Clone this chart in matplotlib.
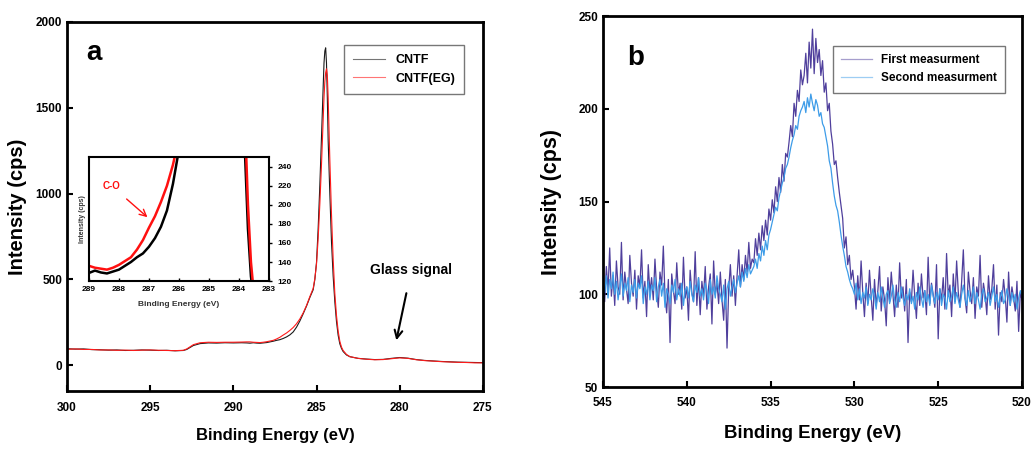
import numpy as np
import matplotlib
matplotlib.use("Agg")
import matplotlib.pyplot as plt

plt.rcParams['font.family'] = ['Liberation Sans', 'DejaVu Sans']
plt.rcParams['font.weight'] = 'bold'

# ---------------- Panel a: C1s ----------------
be_a = [300, 299.5, 299, 298.5, 298, 297.5, 297, 296.5, 296, 295.5, 295, 294.5, 294, 293.5, 293,
        292.8, 292.4, 292, 291.5, 291, 290.5, 290, 289.5, 289.2, 289, 288.8, 288.6, 288.4, 288.2, 288,
        287.8, 287.6, 287.4, 287.2, 287, 286.8, 286.6, 286.4, 286.2, 286, 285.8, 285.6, 285.4,
        285.2, 285.1, 285, 284.9, 284.8, 284.7, 284.6, 284.55, 284.5, 284.45, 284.4, 284.35, 284.3,
        284.2, 284.1, 284, 283.9, 283.8, 283.7, 283.6, 283.5, 283.4, 283.2, 283, 282.5, 282, 281.5,
        281, 280.5, 280, 279.5, 279, 278.5, 278, 277.5, 277, 276.5, 276, 275.5, 275]
cntf = [96, 94, 95, 91, 90, 88, 89, 86, 87, 89, 88, 86, 87, 84, 86,
        92, 115, 126, 130, 129, 131, 130, 131, 130, 128.5, 131, 129, 128, 130, 132,
        136, 140, 145, 149, 156, 165, 177, 194, 222, 258, 300, 345, 395,
        440, 500, 600, 800, 1050, 1330, 1620, 1760, 1830, 1849, 1760, 1560, 1310,
        1000, 720, 520, 370, 255, 175, 125, 98, 80, 60, 50, 40, 36, 33,
        34, 40, 45, 41, 33, 28, 25, 22, 20, 18, 17, 16, 15]
cntf_eg = [93, 95, 92, 92, 89, 89, 87, 88, 86, 88, 89, 87, 86, 85, 87,
           95, 120, 131, 134, 133, 134, 134, 135, 136, 136, 134, 133, 132, 134, 137,
           141, 145, 153, 163, 176, 188, 203, 220, 242, 270, 305, 348, 400,
           448, 505, 590, 740, 940, 1170, 1430, 1560, 1650, 1705, 1727, 1690, 1560,
           1200, 880, 620, 420, 290, 200, 140, 106, 86, 63, 50, 40, 35, 32,
           33, 38, 43, 40, 32, 27, 24, 21, 19, 17, 16, 14, 14]

# ---------------- Panel b: O1s ----------------
be_b_start, be_b_step = 545.0, 0.1
first_meas = [
    108, 96, 115, 102, 125, 99, 110, 94, 118, 104,
    100, 128, 97, 112, 103, 95, 121, 106, 99, 113,
    92, 110, 104, 124, 98, 107, 88, 116, 101, 109,
    97, 119, 103, 93, 112, 105, 126, 99, 90, 108,
    74, 111, 102, 95, 117, 100, 106, 92, 120, 98,
    104, 86, 113, 101, 96, 123, 94, 109, 89, 107,
    99, 115, 92, 104, 111, 84, 118, 100, 106, 95,
    112, 97, 86, 108, 71, 103, 116, 99, 110, 94,
    110, 124, 104, 116, 108, 121, 112, 128, 114, 119,
    117, 130, 121, 133, 124, 137, 129, 140, 132, 146,
    140, 151, 144, 158, 150, 163, 155, 170, 161, 176,
    174, 182, 191, 185, 203, 196, 210, 204, 221, 213,
    218, 230, 214, 236, 222, 243, 219, 238, 225, 232,
    218, 226, 209, 214, 199, 203, 188, 181, 170, 172,
    163, 155, 148, 141, 125, 131, 116, 121, 108, 113,
    104, 92, 110, 97, 118, 101, 88, 106, 95, 113,
    99, 86, 108, 94, 102, 115, 91, 104, 97, 83,
    109, 96, 112, 100, 88, 105, 93, 117, 98, 104,
    91, 108, 74, 101, 96, 113, 99, 87, 106, 94,
    111, 98, 102, 89, 120, 95, 106, 100, 93, 116,
    76, 103, 97, 109, 92, 122, 99, 105, 88, 111,
    96, 118, 101, 93, 107, 124, 98, 90, 112, 102,
    95, 109, 87, 104, 99, 121, 93, 106, 100, 89,
    110, 97, 103, 116, 92, 105, 78, 101, 96, 108,
    99, 85, 112, 94, 104, 98, 91, 107, 80, 101,
    97]
second_meas = [
    106, 101, 110, 98, 108, 103, 112, 100, 107, 97,
    104, 111, 99, 106, 102, 109, 96, 105, 101, 108,
    98, 106, 103, 110, 95, 104, 100, 107, 97, 105,
    102, 109, 96, 104, 108, 99, 106, 93, 103, 100,
    95, 105, 101, 108, 97, 103, 99, 106, 94, 102,
    104, 98, 107, 100, 96, 105, 101, 109, 99, 103,
    97, 106, 102, 95, 108, 100, 104, 98, 110, 103,
    100, 96, 105, 92, 103, 107, 99, 104, 108, 101,
    106, 110, 104, 112, 107, 114, 109, 116, 111, 113,
    115, 119, 114, 122, 118, 126, 121, 129, 124, 132,
    135, 139, 143, 147, 145, 152, 156, 160, 163, 168,
    170, 174, 179, 183, 186, 191, 189, 196, 199, 201,
    204, 198, 206, 201, 208, 203, 199, 205, 202, 196,
    198, 192, 190, 185, 180, 172, 168, 160, 153, 148,
    145, 139, 132, 126, 121, 115, 112, 108, 105, 103,
    100, 106, 97, 103, 95, 101, 98, 104, 94, 100,
    97, 103, 99, 92, 101, 96, 104, 98, 93, 100,
    102, 95, 99, 105, 97, 93, 101, 96, 104, 98,
    94, 100, 97, 103, 95, 99, 92, 101, 97, 104,
    98, 93, 102, 96, 100, 94, 105, 99, 95, 101,
    97, 103, 94, 100, 98, 92, 102, 96, 99, 104,
    95, 101, 97, 93, 100, 105, 98, 94, 102, 96,
    99, 104, 95, 101, 97, 92, 100, 103, 96, 98,
    101, 94, 99, 104, 96, 100, 93, 98, 102, 95,
    97, 103, 99, 94, 101, 96, 100, 92, 98, 102,
    99]
be_b = be_b_start - be_b_step * np.arange(len(first_meas))

fig = plt.figure(figsize=(10.32, 4.49), dpi=100)

def style_axes(ax, lw=2.0, pad=6):
    for s in ax.spines.values():
        s.set_linewidth(lw)
    ax.tick_params(direction='in', length=4, width=1.5, labelsize=8.5, top=False, right=False)
    ax.tick_params(axis='x', pad=pad)
    for lab in ax.get_xticklabels() + ax.get_yticklabels():
        lab.set_fontweight('bold')

# Panel a
axa = fig.add_axes([0.0649, 0.1292, 0.403, 0.822])
axa.plot(be_a, cntf, color='#1a1a1a', lw=0.8, label='CNTF')
axa.plot(be_a, cntf_eg, color='#ff1a1a', lw=0.8, label='CNTF(EG)')
axa.set_xlim(300, 275)
axa.set_ylim(-150, 2000)
axa.set_xticks([300, 295, 290, 285, 280, 275])
axa.set_yticks([0, 500, 1000, 1500, 2000])
style_axes(axa, pad=8)
axa.set_xlabel('Binding Energy (eV)', fontsize=12, fontweight='bold', labelpad=10)
axa.set_ylabel('Intensity (cps)', fontsize=14.5, fontweight='bold', labelpad=6)
axa.text(0.047, 0.916, 'a', transform=axa.transAxes, fontsize=20, fontweight='bold', va='center')
leg = axa.legend(loc='upper right', bbox_to_anchor=(0.969, 0.954), fontsize=9, frameon=True,
                 fancybox=False, edgecolor='#555555', handlelength=2.6, borderpad=0.7,
                 labelspacing=0.55)
leg.get_frame().set_linewidth(1.0)
for t in leg.get_texts():
    t.set_fontweight('bold')
for l in leg.get_lines():
    l.set_alpha(0.6)
axa.annotate('Glass signal', xy=(280.2, 145), xytext=(279.3, 515), ha='center', va='bottom',
             fontsize=10, fontweight='bold',
             arrowprops=dict(arrowstyle='->', color='black', lw=1.5, mutation_scale=14,
                             shrinkA=10, shrinkB=0))

# Inset
axi = fig.add_axes([0.0862, 0.374, 0.1744, 0.276])
axi.plot(be_a, cntf, color='black', lw=1.8)
axi.plot(be_a, cntf_eg, color='#ff1010', lw=1.8)
axi.set_xlim(289, 283)
axi.set_ylim(120, 250)
axi.set_xticks([289, 288, 287, 286, 285, 284, 283])
axi.set_yticks([120, 140, 160, 180, 200, 220, 240])
for s in axi.spines.values():
    s.set_linewidth(1.5)
axi.yaxis.tick_right()
axi.tick_params(axis='y', direction='out', length=2.5, width=1, labelsize=6)
axi.tick_params(axis='x', direction='in', length=2.5, width=1, labelsize=6)
for lab in axi.get_xticklabels() + axi.get_yticklabels():
    lab.set_fontweight('bold')
axi.set_xlabel('Binding Energy (eV)', fontsize=6, fontweight='bold', color='#333333', labelpad=6)
axi.set_ylabel('Intensity (cps)', fontsize=5, fontweight='bold', color='#333333', labelpad=2)
axi.yaxis.set_label_position('left')
axi.annotate('C-O', xy=(287.05, 187), xytext=(288.25, 220), color='#ff1010', fontsize=7,
             fontweight='bold', ha='center', va='center',
             arrowprops=dict(arrowstyle='->', color='#ff1010', lw=1.0, mutation_scale=12,
                             shrinkA=6, shrinkB=0))

# Panel b
axb = fig.add_axes([0.5843, 0.138, 0.406, 0.826])
axb.plot(be_b, first_meas, color='#4f3f9c', lw=0.9, label='First measurment')
axb.plot(be_b, second_meas, color='#3d9ce8', lw=0.9, label='Second measurment')
axb.set_xlim(545, 520)
axb.set_ylim(50, 250)
axb.set_xticks([545, 540, 535, 530, 525, 520])
axb.set_yticks([50, 100, 150, 200, 250])
style_axes(axb, pad=7)
axb.set_xlabel('Binding Energy (eV)', fontsize=13.4, fontweight='bold', labelpad=12)
axb.set_ylabel('Intensity (cps)', fontsize=15.5, fontweight='bold', labelpad=12)
axb.text(0.057, 0.887, 'b', transform=axb.transAxes, fontsize=20, fontweight='bold', va='center')
legb = axb.legend(loc='upper right', bbox_to_anchor=(0.974, 0.935), fontsize=8.5, frameon=True,
                  fancybox=False, edgecolor='#555555', handlelength=2.6, borderpad=0.7,
                  labelspacing=0.5)
legb.get_frame().set_linewidth(1.0)
for t in legb.get_texts():
    t.set_fontweight('bold')
for l in legb.get_lines():
    l.set_alpha(0.5)

fig.savefig('out.png', dpi=100)
